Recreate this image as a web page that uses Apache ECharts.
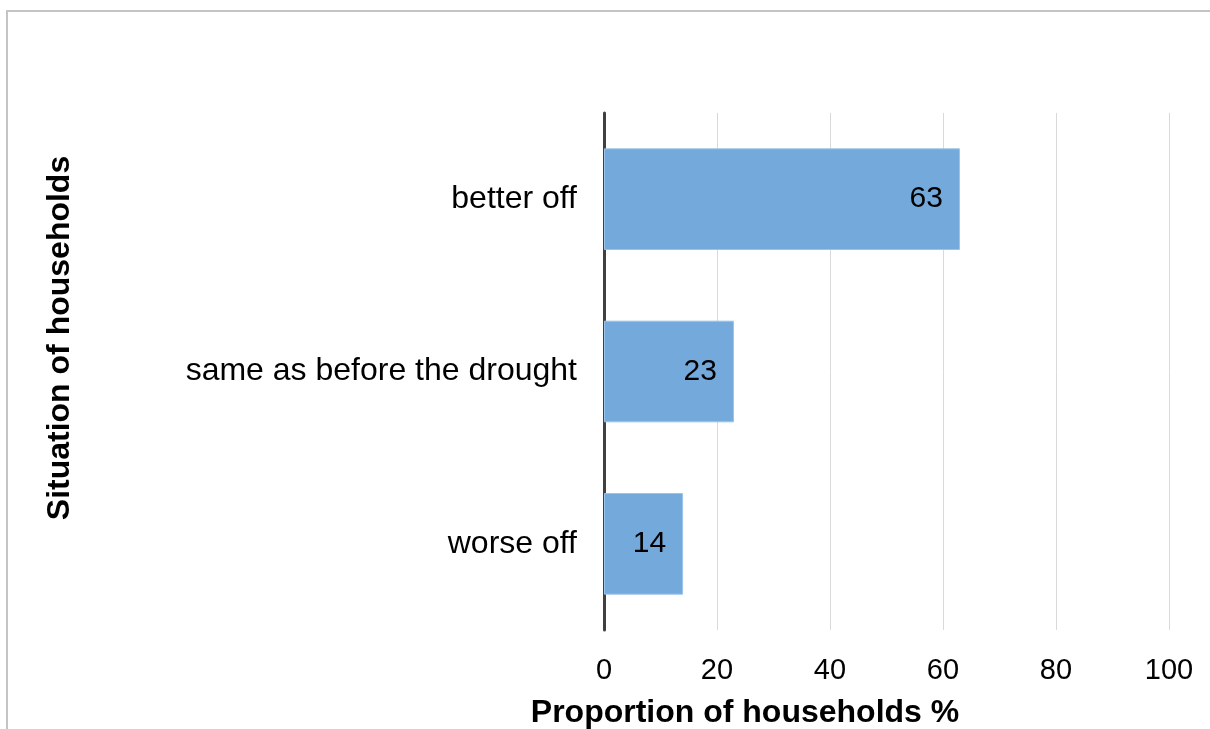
<!DOCTYPE html>
<html>
<head>
<meta charset="utf-8">
<script src="https://cdn.jsdelivr.net/npm/echarts@6/dist/echarts.min.js"></script>
<style>
  html, body { margin: 0; padding: 0; background: #fff; }
  #chart { width: 1210px; height: 729px; }
</style>
</head>
<body>
<div id="chart"></div>
<script>
// Household situation compared with before the drought
const categories = ['worse off', 'same as before the drought', 'better off'];
const values = [14, 23, 63];
const xTicks = [0, 20, 40, 60, 80, 100];
const xTitle = 'Proportion of households %';
const yTitle = 'Situation of households';

const chart = echarts.init(document.getElementById('chart'), null, { renderer: 'canvas' });
const font = '"Liberation Sans", Arial, sans-serif';
const titleStyle = { fontFamily: font, fontSize: 32, fontWeight: 'bold', fill: '#000' };

chart.setOption({
  animation: false,
  backgroundColor: '#fff',
  graphic: [
    {
      type: 'rect',
      shape: { x: 7, y: 11, width: 1300, height: 800 },
      style: { fill: 'none', stroke: '#c4c4c4', lineWidth: 2 },
      silent: true
    },
    {
      type: 'text',
      x: 745, y: 713,
      style: Object.assign({ text: xTitle, align: 'center', verticalAlign: 'middle' }, titleStyle),
      silent: true
    },
    {
      type: 'text',
      x: 60, y: 338,
      rotation: Math.PI / 2,
      style: Object.assign({ text: yTitle, align: 'center', verticalAlign: 'middle' }, titleStyle),
      silent: true
    }
  ],
  grid: { left: 604, right: 41, top: 113, bottom: 99, outerBoundsMode: 'none', containLabel: false },
  xAxis: {
    type: 'value',
    min: xTicks[0],
    max: xTicks[xTicks.length - 1],
    interval: 20,
    axisLine: { show: false },
    axisTick: { show: false },
    axisLabel: { fontFamily: font, fontSize: 29, color: '#000', margin: 26 },
    splitLine: { show: true, lineStyle: { color: '#d9d9d9', width: 1 } }
  },
  yAxis: {
    type: 'category',
    data: categories,
    axisLine: { show: true, lineStyle: { color: '#404040', width: 3 } },
    axisTick: { show: false },
    axisLabel: { fontFamily: font, fontSize: 32, color: '#000', margin: 27 },
    splitLine: { show: false }
  },
  series: [{
    type: 'bar',
    data: values,
    barCategoryGap: '41%',
    itemStyle: { color: '#73a9db', borderColor: '#9cc3e8', borderWidth: 1 },
    label: {
      show: true,
      position: 'insideRight',
      distance: 17,
      fontFamily: font,
      fontSize: 30,
      color: '#000'
    }
  }]
});
</script>
</body>
</html>
